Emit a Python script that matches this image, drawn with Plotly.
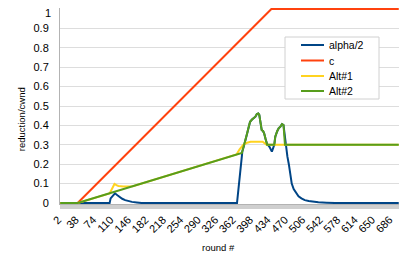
import plotly.graph_objects as go

# ---- data ----
tick_rounds = [2, 38, 74, 110, 146, 182, 218, 254, 290, 326, 362, 398, 434, 470, 506, 542, 578, 614, 650, 686]
y_ticks = [0, 0.1, 0.2, 0.3, 0.4, 0.5, 0.6, 0.7, 0.8, 0.9, 1]

alpha_x = [2, 104, 106, 110, 115, 120, 125, 130, 136, 142, 150, 160, 170,
           367, 371, 375, 378, 382, 385, 388, 391, 394, 398, 401, 405, 408, 411, 413,
           416, 418, 421, 423, 426, 429, 434, 439, 444, 446, 450, 453, 457, 460, 463,
           466, 469, 471, 474, 477, 480, 484, 489, 494, 500, 507, 515, 524, 535, 552, 570, 701]
alpha_y = [0, 0, 0.024, 0.038, 0.05, 0.04, 0.03, 0.022, 0.015, 0.010, 0.006, 0.003, 0,
           0, 0.09, 0.19, 0.265, 0.30, 0.33, 0.36, 0.39, 0.419, 0.43, 0.437, 0.445, 0.459, 0.462, 0.454,
           0.41, 0.376, 0.37, 0.359, 0.33, 0.305, 0.29, 0.265, 0.30, 0.342, 0.37, 0.385, 0.395, 0.407, 0.402,
           0.33, 0.28, 0.24, 0.20, 0.14, 0.10, 0.072, 0.05, 0.035, 0.024, 0.015, 0.010, 0.007, 0.004, 0.002, 0, 0]

c_x = [2, 38, 438, 701]
c_y = [0, 0, 1, 1]

alt1_x = [2, 38, 104, 108, 110, 114, 118, 122, 132, 152, 366, 372, 380, 388, 395, 420, 428, 701]
alt1_y = [0, 0, 0.049, 0.07, 0.084, 0.098, 0.092, 0.088, 0.085, 0.087, 0.25, 0.275, 0.30, 0.311, 0.316, 0.316, 0.30, 0.30]

alt2_x = [2, 38, 377, 382, 385, 388, 391, 394, 398, 401, 405, 408, 411, 413,
          416, 418, 421, 423, 426, 429, 444, 446, 450, 453, 457, 460, 463, 466, 701]
alt2_y = [0, 0, 0.258, 0.30, 0.33, 0.36, 0.39, 0.419, 0.43, 0.437, 0.445, 0.459, 0.462, 0.454,
          0.41, 0.376, 0.37, 0.359, 0.33, 0.30, 0.30, 0.342, 0.37, 0.385, 0.395, 0.407, 0.402, 0.30, 0.30]

series_names = ["alpha/2", "c", "Alt#1", "Alt#2"]
series_x = [alpha_x, c_x, alt1_x, alt2_x]
series_y = [alpha_y, c_y, alt1_y, alt2_y]
series_colors = ["#004586", "#ff420e", "#ffd320", "#579d1c"]

FONT = "Liberation Sans"
# page body has an 8px default margin, so the figure is drawn offset by (8, 8)
OFF = 8
W, H = 407 - OFF, 268 - OFF
# plot area in page pixels: x 60..399, y 8..204
PX0, PX1, PY0, PY1 = 60, 399, 8, 204
ML, MR = PX0 - OFF, (OFF + W) - PX1
MT, MB = PY0 - OFF, (OFF + H) - PY1
PW, PH = PX1 - PX0, PY1 - PY0


def px_x(p):
    return (p - PX0) / PW


def px_y(p):
    return (PY1 - p) / PH


fig = go.Figure()
for name, xs, ys, col in zip(series_names, series_x, series_y, series_colors):
    fig.add_trace(go.Scatter(x=xs, y=ys, mode="lines", name=name,
                             line=dict(color=col, width=2), showlegend=False))

# legend drawn as a box with samples (compact spacing like the reference)
shapes = [dict(type="rect", xref="paper", yref="paper",
               x0=px_x(285), x1=px_x(379), y0=px_y(99), y1=px_y(37),
               line=dict(color="#d0d0d0", width=1), fillcolor="white", layer="above")]
annotations = []
leg_rows = [45, 60.5, 76, 91]
for name, col, yy in zip(series_names, series_colors, leg_rows):
    shapes.append(dict(type="line", xref="paper", yref="paper",
                       x0=px_x(301), x1=px_x(324), y0=px_y(yy), y1=px_y(yy),
                       line=dict(color=col, width=2), layer="above"))
    annotations.append(dict(text=name, x=px_x(327), y=px_y(yy), xref="paper", yref="paper",
                            xanchor="left", yanchor="middle", showarrow=False,
                            font=dict(family=FONT, size=10.5, color="#000000")))

# the top y label ("1") sits at the very top edge of the figure; place it so it stays visible
y_top_label = f"{y_ticks[-1]:g}"
annotations.append(dict(text=y_top_label, x=px_x(53.3), y=1, xref="paper", yref="paper",
                        xanchor="right", yanchor="top", yshift=3, showarrow=False,
                        font=dict(family=FONT, size=11, color="#000000")))

annotations += [
    dict(text="reduction/cwnd", x=px_x(21.7), y=px_y(119.5), xref="paper", yref="paper",
         xanchor="center", yanchor="middle",
         textangle=-90, showarrow=False, font=dict(family=FONT, size=9.5)),
    dict(text="round #", x=px_x(218.5), y=px_y(247), xref="paper", yref="paper",
         xanchor="center", yanchor="middle",
         showarrow=False, font=dict(family=FONT, size=9.5)),
]

fig.update_layout(
    width=W, height=H,
    margin=dict(l=ML, r=MR, t=MT, b=MB, pad=0, autoexpand=False),
    paper_bgcolor="white", plot_bgcolor="white",
    font=dict(family=FONT, size=11, color="#000000"),
    showlegend=False,
    shapes=shapes,
    annotations=annotations,
)

fig.update_xaxes(
    range=[1.5, 701.5], tickvals=tick_rounds, ticktext=[str(v) for v in tick_rounds],
    tickangle=-45, ticks="", showgrid=False, zeroline=False, automargin=False,
    showline=True, linecolor="#b3b3b3", linewidth=1,
    tickfont=dict(family=FONT, size=11), ticklabelshift=-2, ticklabelstandoff=4,
    minor=dict(ticks="outside", dtick=1, tick0=1.5, ticklen=4, tickcolor="#cfcfcf", tickwidth=1, showgrid=False),
)
fig.update_yaxes(
    range=[-0.005, 1.005], tickvals=y_ticks,
    ticktext=[f"{v:g}" for v in y_ticks[:-1]] + [""],
    showgrid=True, gridcolor="#dddddd", gridwidth=1, zeroline=False, automargin=False,
    showline=True, mirror=True, linecolor="#b3b3b3", linewidth=1,
    ticks="", ticklabelstandoff=8, tickfont=dict(family=FONT, size=11),
)

fig.write_html("out.html")
